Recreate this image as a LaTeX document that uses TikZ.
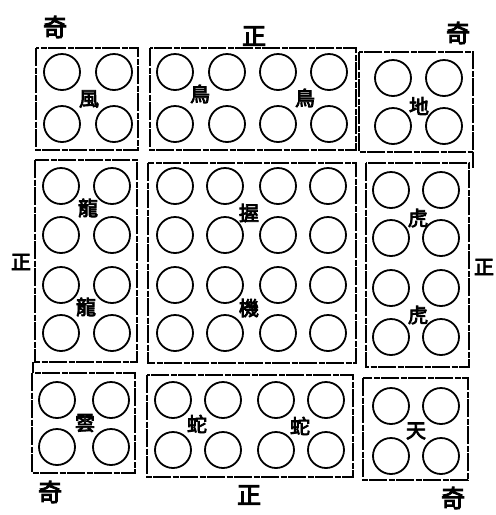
\documentclass[tikz,border=0pt]{standalone}
\usepackage{fontspec}
\newfontfamily\cjk{Noto Sans CJK TC}[FakeBold=4]
\tikzset{
  boxline/.style={line width=1.6pt, dash pattern=on 18pt off 1.5pt on 6pt off 1.5pt},
  ring/.style={line width=1.8pt},
  outerlab/.style={font=\cjk\fontsize{24}{24}\selectfont, inner sep=0pt},
  sidelab/.style={font=\cjk\fontsize{20}{20}\selectfont, inner sep=0pt},
  innerlab/.style={font=\cjk\fontsize{20}{20}\selectfont, inner sep=0pt}
}
\begin{document}
\begin{tikzpicture}[x=1pt,y=-1pt]
\useasboundingbox (0,0) rectangle (496,515);
\fill[white] (0,0) rectangle (496,515);
% boxes
\draw[boxline] (36,48) rectangle (138,150);
\draw[boxline] (150,48) rectangle (356,150);
\draw[boxline] (359,52) rectangle (473,152);
\draw[boxline] (35,160) rectangle (137,362);
\draw[boxline] (148,163) rectangle (356,363);
\draw[boxline] (366,163) rectangle (469,367);
\draw[boxline] (32,373) rectangle (135,473);
\draw[boxline] (147,375) rectangle (353,477);
\draw[boxline] (363,378) rectangle (468,480);
\draw[boxline] (33,362) -- (33,373);
\draw[boxline] (473,152) -- (473,168);
% circles
\foreach \x in {62,114} \foreach \y in {72,124} \draw[ring] (\x,\y) circle (18);
\foreach \x in {175,227,278,329} \foreach \y in {72,124} \draw[ring] (\x,\y) circle (18);
\foreach \x in {393,444} \foreach \y in {78,126} \draw[ring] (\x,\y) circle (18);
\foreach \x in {61,112} \foreach \y in {186,235,285,333} \draw[ring] (\x,\y) circle (18);
\foreach \x in {175,225,278,328} \foreach \y in {186,235,285,333} \draw[ring] (\x,\y) circle (18);
\foreach \x in {391,441} \foreach \y in {190,238,288,337} \draw[ring] (\x,\y) circle (18);
\foreach \x in {57,111} \foreach \y in {400,447} \draw[ring] (\x,\y) circle (18);
\foreach \x in {173,223,276,326} \foreach \y in {400,450} \draw[ring] (\x,\y) circle (18);
\foreach \x in {391,441} \foreach \y in {406,456} \draw[ring] (\x,\y) circle (18);
% outer labels
\node[outerlab] (qtl) at (55,27) {奇};
\node[outerlab] (zt) at (254,36) {正};
\node[outerlab] (qtr) at (458,33) {奇};
\node[sidelab] (zl) at (21,262) {正};
\node[sidelab] (zr) at (484,267) {正};
\node[outerlab] (qbl) at (50,492) {奇};
\node[outerlab] (zb) at (249,495) {正};
\node[outerlab] (qbr) at (453,498) {奇};
% inner labels
\node[innerlab] (feng) at (89,99) {風};
\node[innerlab] (niao1) at (200,94) {鳥};
\node[innerlab] (niao2) at (305,98) {鳥};
\node[innerlab] (di) at (419,106) {地};
\node[innerlab] (long1) at (88,208) {龍};
\node[innerlab] (long2) at (86,307) {龍};
\node[innerlab] (wo) at (249,213) {握};
\node[innerlab] (ji) at (249,308) {機};
\node[innerlab] (hu1) at (418,218) {虎};
\node[innerlab] (hu2) at (418,315) {虎};
\node[innerlab] (yun) at (85,423) {雲};
\node[innerlab] (she1) at (197,424) {蛇};
\node[innerlab] (she2) at (300,426) {蛇};
\node[innerlab] (tian) at (416,431) {天};
\end{tikzpicture}
\end{document}
